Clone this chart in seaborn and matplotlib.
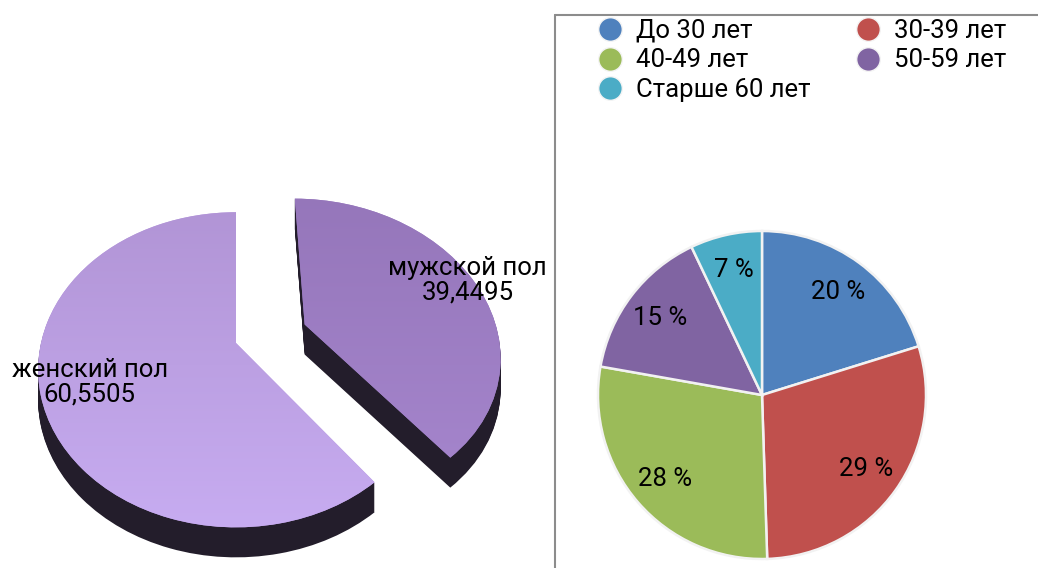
import numpy as np
import matplotlib
matplotlib.use('Agg')
import matplotlib.pyplot as plt
import seaborn as sns
from matplotlib.transforms import Transform, Affine2D
from matplotlib.lines import Line2D

# data
gender_labels = ['мужской пол', 'женский пол']
gender_values = [39.4495, 60.5505]
gender_colors = ['#9d80c4', '#bba0e2']

age_labels = ['До 30 лет', '30-39 лет', '40-49 лет', '50-59 лет', 'Старше 60 лет']
age_values = [20, 29, 28, 15, 7]
age_colors = ['#4f81bd', '#c0504d', '#9bbb59', '#8064a2', '#4bacc6']

sns.set_theme(style='white')
plt.rcParams['font.family'] = ['Roboto', 'DejaVu Sans']
plt.rcParams['text.color'] = 'black'


class Tilt(Transform):
    """simple perspective: far side of the disc (y>0) is drawn smaller"""
    input_dims = output_dims = 2
    is_separable = False

    def __init__(self, b):
        super().__init__()
        self.b = b

    def transform_non_affine(self, xy):
        xy = np.asarray(xy, float)
        s = 1.0 / (1.0 + self.b * xy[:, 1])
        return np.column_stack([xy[:, 0] * s, xy[:, 1] * s])


fig = plt.figure(figsize=(10.38, 5.68), dpi=100)

# left: 3d-looking gender pie, drawn in pixel coordinates
ax1 = fig.add_axes([0, 0, 1, 1])
cx, cy, rx, ry, b = 236, 343, 195, 153, 0.17
depth = 30
explode = [0.38, 0]

for h in np.linspace(depth, 1, 30):
    side, _ = ax1.pie(gender_values, startangle=90, counterclock=False, explode=explode,
                      colors=['#231d2b'] * 2, wedgeprops=dict(linewidth=0))
    tr = Tilt(b) + Affine2D().scale(rx, -ry).translate(cx, cy + h) + ax1.transData
    for w in side:
        w.set_transform(tr)

top, _ = ax1.pie(gender_values, startangle=90, counterclock=False, explode=explode,
                 colors=gender_colors, wedgeprops=dict(linewidth=0))
tr_top = Tilt(b) + Affine2D().scale(rx, -ry).translate(cx, cy) + ax1.transData

# soft vertical shading on the top faces
shade = [('#9576ba', '#a888d0'), ('#b093d4', '#c8adf2')]
for w, (c_top, c_bot) in zip(top, shade):
    w.set_transform(tr_top)
    cmap = matplotlib.colors.LinearSegmentedColormap.from_list('g', [c_top, c_bot])
    img = ax1.imshow(np.linspace(0, 1, 256)[:, None], cmap=cmap, aspect='auto',
                     extent=(0, 560, 540, 190), zorder=w.get_zorder() + 0.1)
    img.set_clip_path(w)

label_dist = [0.97, 0.76]
for w, lab, val, d in zip(top, gender_labels, gender_values, label_dist):
    t = np.deg2rad((w.theta1 + w.theta2) / 2)
    x0, y0 = w.center
    ax1.text(x0 + d * np.cos(t), y0 + d * np.sin(t), f'{lab}\n{val:.4f}'.replace('.', ','),
             transform=tr_top, ha='center', va='center', fontsize=18.5, linespacing=1.05,
             zorder=5)

ax1.set_aspect('auto')
ax1.set_xlim(0, 1038)
ax1.set_ylim(568, 0)
ax1.axis('off')

# right: age pie
ax2 = fig.add_axes([(762 - 205) / 1038, (568 - 395 - 205) / 568, 410 / 1038, 410 / 568])
wedges, _, _ = ax2.pie(age_values, colors=age_colors, startangle=90, counterclock=False,
                       autopct=lambda p: f'{round(p)} %', pctdistance=0.78,
                       wedgeprops=dict(edgecolor='#f2f2f2', linewidth=1.8),
                       textprops=dict(fontsize=18.5, color='black'))

order = [0, 2, 4, 1, 3]
handles = [Line2D([], [], marker='o', linestyle='', markersize=17,
                  markerfacecolor=age_colors[i], markeredgecolor='#f4f4f4', markeredgewidth=1)
           for i in order]
fig.legend(handles, [age_labels[i] for i in order], ncol=2, loc='upper left',
           bbox_to_anchor=(579 / 1038, 1 - 6 / 568), frameon=False, fontsize=18.5,
           handletextpad=0.3, columnspacing=1.55, labelspacing=0.22, borderpad=0,
           handlelength=1.4)

# chart area border
fig.add_artist(Line2D([555 / 1038, 555 / 1038], [0, 1 - 15 / 568], transform=fig.transFigure,
                      color='#8c8c8c', lw=1.5))
fig.add_artist(Line2D([555 / 1038, 1], [1 - 15 / 568, 1 - 15 / 568], transform=fig.transFigure,
                      color='#8c8c8c', lw=1.5))

fig.savefig('out.png', dpi=100)
